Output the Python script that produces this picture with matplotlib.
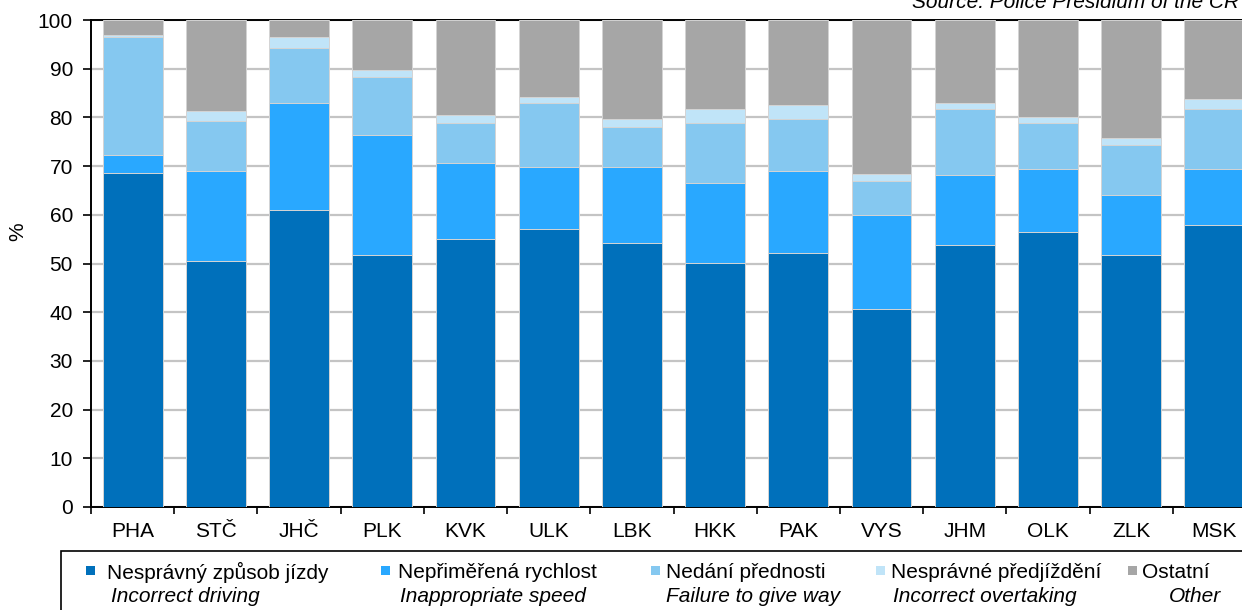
import matplotlib
matplotlib.use("Agg")
import matplotlib.pyplot as plt
from matplotlib.patches import Rectangle
import numpy as np

plt.rcParams['font.family'] = ['Liberation Sans', 'DejaVu Sans']

regions = ["PHA", "STČ", "JHČ", "PLK", "KVK", "ULK", "LBK", "HKK", "PAK", "VYS", "JHM", "OLK", "ZLK", "MSK"]

incorrect_driving = [68.6, 50.5, 60.9, 51.7, 55.0, 57.1, 54.3, 50.1, 52.2, 40.6, 53.8, 56.4, 51.7, 58.0]
inappropriate_speed = [3.7, 18.5, 22.1, 24.7, 15.6, 12.7, 15.5, 16.5, 16.8, 19.4, 14.4, 13.0, 12.4, 11.4]
failure_to_give_way = [24.2, 10.2, 11.3, 11.8, 8.2, 13.1, 8.3, 12.2, 10.7, 7.0, 13.5, 9.4, 10.2, 12.3]
incorrect_overtaking = [0.4, 2.1, 2.2, 1.6, 1.6, 1.3, 1.6, 2.9, 2.9, 1.4, 1.3, 1.3, 1.4, 2.1]
other = [3.1, 18.7, 3.5, 10.2, 19.6, 15.8, 20.3, 18.3, 17.4, 31.6, 17.0, 19.9, 24.3, 16.2]

labels_cz = ["Nesprávný způsob jízdy", "Nepřiměřená rychlost", "Nedání přednosti",
             "Nesprávné předjíždění", "Ostatní"]
labels_en = ["Incorrect driving", "Inappropriate speed", "Failure to give way",
             "Incorrect overtaking", "Other"]
colors = ["#0070BB", "#29A8FF", "#85C8F0", "#C0E4F8", "#A6A6A6"]

series = [incorrect_driving, inappropriate_speed, failure_to_give_way, incorrect_overtaking, other]

FS = 15
W, H = 1242, 610
fig = plt.figure(figsize=(W / 100, H / 100), dpi=100)
ax = fig.add_axes([91 / W, 1 - 507 / H, (1256 - 91) / W, (507 - 20) / H])

x = np.arange(len(regions))
bottom = np.zeros(len(regions))
for vals, col in zip(series, colors):
    v = np.array(vals)
    ax.bar(x, v, width=0.72, bottom=bottom, color=col, edgecolor="#d4d4d4",
           linewidth=0.7, zorder=3)
    bottom += v

ax.set_xlim(-0.5, len(regions) - 0.5)
ax.set_ylim(0, 100)
ax.set_yticks(np.arange(0, 101, 10))
ax.yaxis.grid(True, color="#c4c4c4", linewidth=1.6, zorder=0)
ax.set_axisbelow(True)

ax.set_xticks(np.arange(-0.5, len(regions), 1))
ax.set_xticklabels([])
ax.set_xticks(x, minor=True)
ax.set_xticklabels(regions, minor=True)
ax.tick_params(axis="x", which="major", direction="out", length=5, width=1.2, color="black")
ax.tick_params(axis="x", which="minor", length=0, pad=11, labelsize=FS)
ax.tick_params(axis="y", direction="out", length=6, width=1.2, labelsize=FS, pad=7)

for s in ["left", "bottom", "top"]:
    ax.spines[s].set_color("black")
    ax.spines[s].set_linewidth(1.4)
ax.spines["right"].set_visible(False)

fig.text(18 / W, 1 - 232 / H, "%", rotation=90, ha="center", va="center", fontsize=FS)

fig.text(912 / W, 1 - 3 / H, "Source: Police Presidium of the CR", style="italic",
         ha="left", va="center", fontsize=FS)

# legend box
fig.patches.append(Rectangle((61 / W, 0 - 0.05), 1.2, (H - 551) / H + 0.05,
                             transform=fig.transFigure, fill=False,
                             edgecolor="black", linewidth=1.2))
marker_x = [90.5, 386, 655, 880, 1132]
text_x1 = [107, 398, 666, 891, 1142]
text_x2 = [111, 400, 666, 893, 1169]
for i in range(5):
    fig.patches.append(Rectangle(((marker_x[i] - 4.5) / W, 1 - 575 / H), 9 / W, 9 / H,
                                 transform=fig.transFigure, facecolor=colors[i],
                                 edgecolor="none"))
    fig.text(text_x1[i] / W, 1 - 572 / H, labels_cz[i], ha="left", va="center", fontsize=FS)
    fig.text(text_x2[i] / W, 1 - 597 / H, labels_en[i], ha="left", va="center",
             fontsize=FS, style="italic")

fig.savefig("out.png", dpi=100)
